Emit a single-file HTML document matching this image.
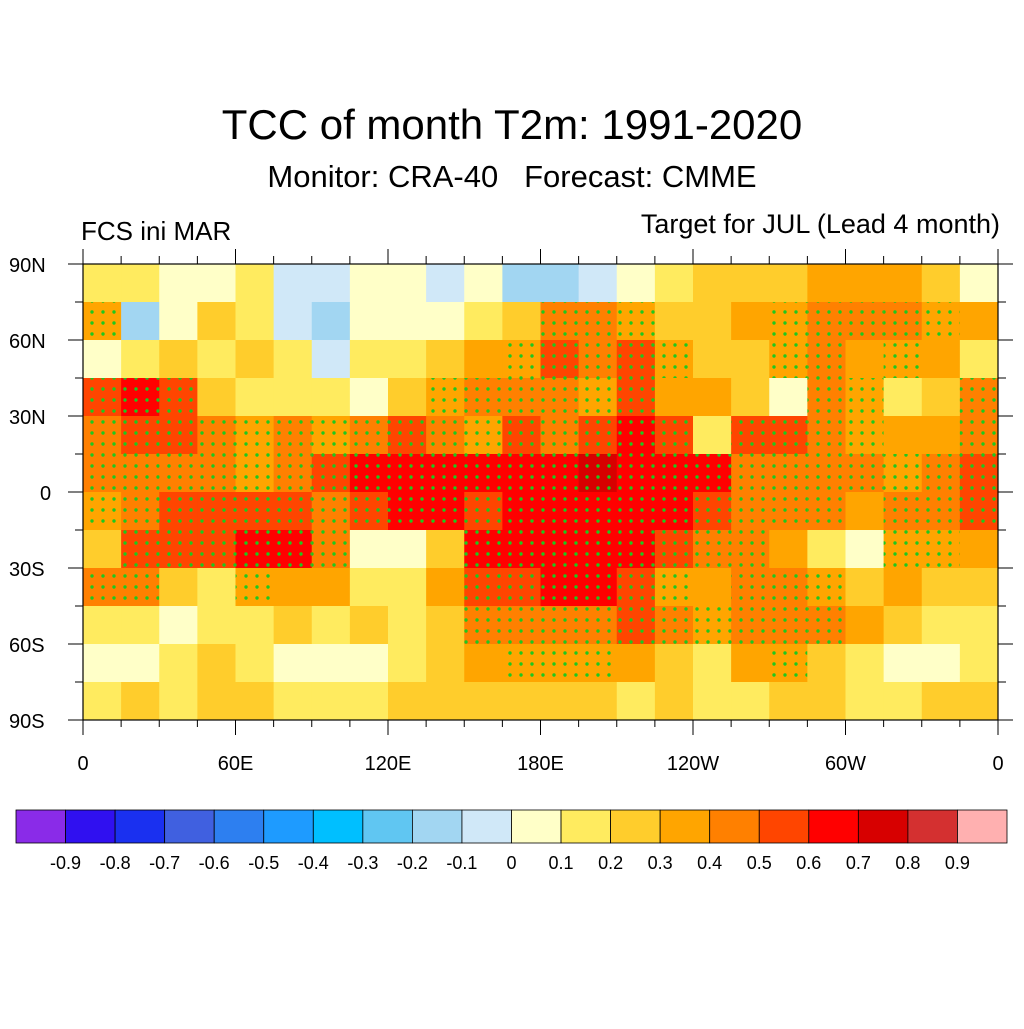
<!DOCTYPE html>
<html><head><meta charset="utf-8">
<style>
body{margin:0;background:#fff;}
svg text{font-family:"Liberation Sans",sans-serif;fill:#000;white-space:pre;}
</style></head>
<body>
<svg id="chart" width="1024" height="1024" viewBox="0 0 1024 1024">
<defs>
<pattern id="dots" width="11" height="11" patternUnits="userSpaceOnUse">
<circle cx="4" cy="4" r="1.7" fill="#1ec81e"/>
</pattern>
<clipPath id="mapclip"><rect x="83" y="264" width="915" height="456"/></clipPath>
</defs>
<text x="512" y="139" font-size="42" text-anchor="middle">TCC of month T2m: 1991-2020</text>
<text x="512" y="187" font-size="31" text-anchor="middle" xml:space="preserve">Monitor: CRA-40   Forecast: CMME</text>
<text x="81" y="240" font-size="26">FCS ini MAR</text>
<text x="1000" y="233" font-size="27" text-anchor="end">Target for JUL (Lead 4 month)</text>
<g id="cells" clip-path="url(#mapclip)"></g>
<rect x="83" y="264" width="915" height="456" fill="none" stroke="#000" stroke-width="1.2"/>
<g id="axes"></g>
<g id="cbar"></g>
</svg>
<script>
const lonCenters=[7.5,22.5,37.5,52.5,67.5,82.5,97.5,112.5,127.5,142.5,157.5,172.5,187.5,202.5,217.5,232.5,247.5,262.5,277.5,292.5,307.5,322.5,337.5,352.5];
const latCenters=[82.5,67.5,52.5,37.5,22.5,7.5,-7.5,-22.5,-37.5,-52.5,-67.5,-82.5];
const tccValues=[
[0.15,0.15,0.05,0.05,0.1,-0.05,-0.05,0.05,0.05,-0.05,0.0,-0.15,-0.15,-0.05,0.05,0.15,0.2,0.25,0.25,0.3,0.3,0.3,0.2,0.05],
[0.35,-0.15,0.05,0.25,0.15,-0.05,-0.15,0.05,0.05,0.05,0.15,0.25,0.45,0.4,0.35,0.25,0.25,0.3,0.35,0.4,0.4,0.4,0.35,0.3],
[0.05,0.15,0.25,0.15,0.25,0.1,-0.05,0.1,0.15,0.25,0.3,0.35,0.55,0.45,0.55,0.35,0.25,0.2,0.35,0.45,0.3,0.35,0.3,0.1],
[0.55,0.6,0.55,0.25,0.15,0.1,0.15,0.05,0.25,0.35,0.4,0.4,0.45,0.35,0.55,0.3,0.3,0.25,0.05,0.45,0.35,0.15,0.25,0.4],
[0.45,0.5,0.55,0.4,0.35,0.4,0.35,0.45,0.55,0.4,0.35,0.5,0.45,0.55,0.6,0.55,0.15,0.5,0.55,0.45,0.35,0.3,0.3,0.45],
[0.4,0.45,0.45,0.4,0.35,0.4,0.55,0.65,0.6,0.6,0.65,0.65,0.65,0.7,0.65,0.65,0.6,0.45,0.4,0.45,0.4,0.35,0.45,0.5],
[0.35,0.45,0.55,0.55,0.5,0.55,0.45,0.55,0.6,0.6,0.55,0.6,0.65,0.6,0.6,0.6,0.55,0.45,0.45,0.4,0.3,0.45,0.45,0.5],
[0.2,0.55,0.5,0.5,0.6,0.6,0.45,0.05,0.0,0.25,0.6,0.6,0.6,0.65,0.6,0.55,0.45,0.4,0.3,0.15,0.05,0.35,0.35,0.3],
[0.4,0.4,0.25,0.15,0.35,0.3,0.3,0.15,0.1,0.3,0.55,0.55,0.6,0.65,0.55,0.35,0.3,0.45,0.4,0.35,0.25,0.3,0.25,0.2],
[0.15,0.1,0.05,0.15,0.1,0.25,0.15,0.2,0.1,0.25,0.4,0.45,0.4,0.45,0.5,0.45,0.35,0.45,0.45,0.4,0.3,0.2,0.15,0.15],
[0.05,0.05,0.15,0.25,0.1,0.05,0.0,0.05,0.15,0.2,0.3,0.35,0.35,0.35,0.3,0.2,0.1,0.3,0.35,0.2,0.15,0.05,0.0,0.1],
[0.15,0.2,0.15,0.2,0.2,0.15,0.1,0.15,0.2,0.2,0.2,0.2,0.2,0.2,0.15,0.2,0.15,0.15,0.2,0.25,0.15,0.15,0.2,0.2]
];
const levelLabels=["-0.9","-0.8","-0.7","-0.6","-0.5","-0.4","-0.3","-0.2","-0.1","0","0.1","0.2","0.3","0.4","0.5","0.6","0.7","0.8","0.9"];
const levelColors=["#8a2be8","#3010f0","#1a30f0","#4060e0","#2d7ff0","#1e9bff","#00bfff","#60c6f2","#a2d6f2","#d0e8f8","#ffffc8","#ffeb5f","#ffcd2c","#ffa500","#ff8000","#ff4500","#ff0000","#d70000","#d43030","#ffb0b0"];
const latTicks=[90,60,30,0,-30,-60,-90];
const latTickLabels=["90N","60N","30N","0","30S","60S","90S"];
const lonTicks=[0,60,120,180,240,300,360];
const lonTickLabels=["0","60E","120E","180E","120W","60W","0"];

const NS="http://www.w3.org/2000/svg";
const X=lon=>83+lon*915/360;
const Y=lat=>264+(90-lat)*456/180;
function mk(tag,attrs,parent){const e=document.createElementNS(NS,tag);for(const k in attrs)e.setAttribute(k,attrs[k]);parent.appendChild(e);return e;}
function colorFor(v){let i=Math.floor(v*10+1e-6)+10;i=Math.max(0,Math.min(19,i));return levelColors[i];}

const cells=document.getElementById('cells');
tccValues.forEach((row,r)=>row.forEach((v,c)=>{
  const x0=X(lonCenters[c]-7.5),x1=X(lonCenters[c]+7.5),y0=Y(latCenters[r]+7.5),y1=Y(latCenters[r]-7.5);
  const rc=mk('rect',{x:x0,y:y0,width:x1-x0+0.6,height:y1-y0+0.6,fill:colorFor(v)},cells);
  
  
  if(v>=0.35){
    const d=mk('rect',{x:x0,y:y0,width:x1-x0,height:y1-y0,fill:'url(#dots)'},cells);
    
    
  }
}));

const axes=document.getElementById('axes');
for(let lat=-90;lat<=90;lat+=15){
  const y=Y(lat),major=lat%30===0;
  const l=mk('line',{x1:major?68:75,x2:83,y1:y,y2:y,stroke:'#000','stroke-width':1},axes);
  
  
  const r=mk('line',{x1:998,x2:major?1013:1006,y1:y,y2:y,stroke:'#000','stroke-width':1},axes);
  
  
}
latTicks.forEach((lat,i)=>{
  const t=mk('text',{x:latTickLabels[i]==='0'?40:9,y:Y(lat)+8,'font-size':20,'text-anchor':'start'},axes);
  t.textContent=latTickLabels[i];
  
  
});
for(let lon=0;lon<=360;lon+=15){
  const x=X(lon),major=lon%60===0;
  const b=mk('line',{x1:x,x2:x,y1:720,y2:major?735:727,stroke:'#000','stroke-width':1},axes);
  
  
  const t=mk('line',{x1:x,x2:x,y1:major?249:256,y2:264,stroke:'#000','stroke-width':1},axes);
  
  
}
lonTicks.forEach((lon,i)=>{
  const t=mk('text',{x:X(lon),y:770,'font-size':20,'text-anchor':'middle'},axes);
  t.textContent=lonTickLabels[i];
  
  
});

const cbar=document.getElementById('cbar');
const cbX0=16,cbW=(1007-16)/20;
levelColors.forEach((c,i)=>{
  const r=mk('rect',{x:cbX0+i*cbW,y:810,width:cbW,height:33,fill:c,stroke:'#000','stroke-width':0.8},cbar);
  
  
});
levelLabels.forEach((s,i)=>{
  const t=mk('text',{x:cbX0+(i+1)*cbW,y:869,'font-size':18,'text-anchor':'middle'},cbar);
  t.textContent=s;
  
  
});
</script>
</body></html>
